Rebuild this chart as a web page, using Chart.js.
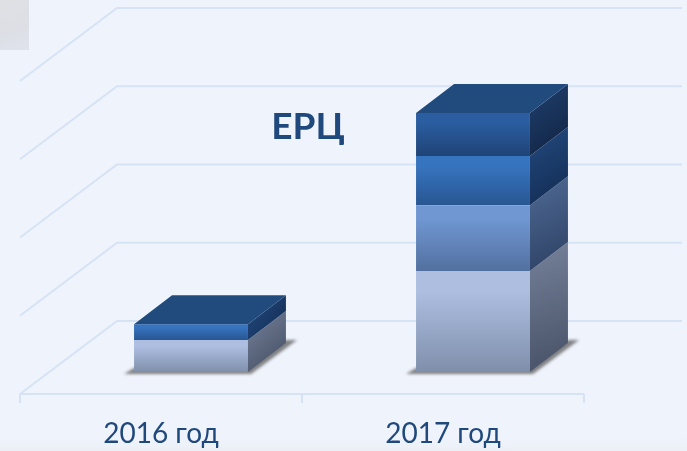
<!DOCTYPE html>
<html>
<head>
<meta charset="utf-8">
<script src="https://cdn.jsdelivr.net/npm/chart.js@4/dist/chart.umd.min.js"></script>
<style>
    html, body { margin: 0; padding: 0; }
    body { width: 687px; height: 451px; overflow: hidden; position: relative;
           background: linear-gradient(to bottom, #eff3fc 0, #eff3fc 436px, #ecf0f6 451px); }
    #patch { position: absolute; left: 0; top: 0; width: 29px; height: 50px;
             background: linear-gradient(160deg, #dfe0e3, #dddfe6 60%, #e0e3ee); }
    canvas { position: absolute; left: 0; top: 0; }
</style>
</head>
<body>
<div id="patch"></div>
<canvas id="myChart" width="687" height="451"></canvas>
<script>
// Data
const categories = ["2016 год", "2017 год"];
const layer1 = [41, 129];
const layer2 = [0, 84];
const layer3 = [20, 63];
const layer4 = [0, 55];
const chartTitle = "ЕРЦ";

// Colors: front top, front bottom, side start, side end
const layerColors = [
    ["#adbee1", "#7f8fab", "#76829a", "#4c576d"],
    ["#7097d2", "#52709f", "#506b96", "#32466a"],
    ["#3774bf", "#285692", "#234b80", "#153059"],
    ["#2b5ea1", "#1f4376", "#1f406f", "#142849"]
];
const layers = [layer1, layer2, layer3, layer4];

const depthX = 38, depthY = 29;       // bar depth
const floorX = 97, floorY = 73;       // floor depth
const planeX = 30, planeY = 22;       // bar plane -> front of the floor
const gridColor = "#d6e3f5";
const topColor = "#204b7c";

function stackedBase(datasetIndex, dataIndex) {
    let sum = 0;
    for (let i = 0; i < datasetIndex; i++) sum += layers[i][dataIndex];
    return sum;
}

function frontGradient(ctx) {
    const chart = ctx.chart;
    const colors = layerColors[ctx.datasetIndex];
    if (!chart.chartArea || ctx.dataIndex === undefined) return colors[0];
    const y = chart.scales.y;
    const base = stackedBase(ctx.datasetIndex, ctx.dataIndex);
    const yTop = y.getPixelForValue(base + layers[ctx.datasetIndex][ctx.dataIndex]);
    const yBot = y.getPixelForValue(base);
    if (yTop === yBot) return colors[0];
    const g = chart.ctx.createLinearGradient(0, yTop, 0, yBot);
    g.addColorStop(0, colors[0]);
    g.addColorStop(0.2, colors[0]);
    g.addColorStop(1, colors[1]);
    return g;
}

// walls, floor, axis, shadows: behind the bars
const wallsPlugin = {
    id: "walls",
    beforeDatasetsDraw(chart) {
        const ctx = chart.ctx, x = chart.scales.x, y = chart.scales.y;
        const frontLeft = x.left - planeX;
        const frontRight = x.right - planeX;
        ctx.save();
        ctx.strokeStyle = gridColor;
        ctx.lineWidth = 2;
        y.ticks.forEach(t => {
            const py = y.getPixelForValue(t.value) + planeY;
            ctx.beginPath();
            ctx.moveTo(frontLeft, py);
            ctx.lineTo(frontLeft + floorX, py - floorY);
            ctx.lineTo(682, py - floorY);
            ctx.stroke();
        });
        // axis line + ticks
        const axisY = y.getPixelForValue(0) + planeY;
        const step = (frontRight - frontLeft) / categories.length;
        ctx.beginPath();
        ctx.moveTo(frontLeft, axisY);
        ctx.lineTo(frontRight, axisY);
        for (let i = 0; i <= categories.length; i++) {
            ctx.moveTo(frontLeft + i * step, axisY);
            ctx.lineTo(frontLeft + i * step, axisY + 9);
        }
        ctx.stroke();

        // shadows
        const meta = chart.getDatasetMeta(0);
        ctx.filter = "blur(1.5px)";
        meta.data.forEach(bar => {
            const l = bar.x - bar.width / 2, r = bar.x + bar.width / 2, b = bar.base;
            ctx.fillStyle = "rgba(90,90,90,0.75)";
            ctx.beginPath();
            ctx.moveTo(l - 10, b + 2);
            ctx.lineTo(r + 3, b + 2);
            ctx.lineTo(r + depthX + 11, b - depthY - 3);
            ctx.lineTo(r + depthX, b - depthY - 3);
            ctx.lineTo(r, b - 4);
            ctx.lineTo(l, b - 4);
            ctx.closePath();
            ctx.fill();
        });
        ctx.restore();
    }
};

// side and top faces, taken from the bar elements
const boxPlugin = {
    id: "box",
    afterDatasetsDraw(chart) {
        const ctx = chart.ctx;
        ctx.save();
        categories.forEach((c, idx) => {
            let topY = null, right = 0, left = 0;
            layers.forEach((l, di) => {
                const bar = chart.getDatasetMeta(di).data[idx];
                const yTop = Math.min(bar.y, bar.base), yBot = Math.max(bar.y, bar.base);
                left = bar.x - bar.width / 2;
                right = bar.x + bar.width / 2;
                if (yBot - yTop < 0.5) return;
                const colors = layerColors[di];
                const g = ctx.createLinearGradient(right, yTop - depthY, right + depthX, yBot - depthY + 10);
                g.addColorStop(0, colors[2]);
                g.addColorStop(1, colors[3]);
                ctx.fillStyle = g;
                ctx.beginPath();
                ctx.moveTo(right, yTop);
                ctx.lineTo(right + depthX, yTop - depthY);
                ctx.lineTo(right + depthX, yBot - depthY);
                ctx.lineTo(right, yBot);
                ctx.closePath();
                ctx.fill();
                topY = yTop;
            });
            ctx.fillStyle = topColor;
            ctx.beginPath();
            ctx.moveTo(left, topY);
            ctx.lineTo(left + depthX, topY - depthY);
            ctx.lineTo(right + depthX, topY - depthY);
            ctx.lineTo(right, topY);
            ctx.closePath();
            ctx.fill();
        });
        // title
        ctx.fillStyle = "#1f497d";
        ctx.font = "bold 37px Lato, 'Open Sans', sans-serif";
        ctx.textAlign = "center";
        ctx.textBaseline = "alphabetic";
        ctx.fillText(chartTitle, 308, 139);
        ctx.restore();
    }
};

new Chart(document.getElementById("myChart").getContext("2d"), {
    type: "bar",
    data: {
        labels: categories,
        datasets: layers.map(values => ({
            data: values,
            backgroundColor: frontGradient,
            borderWidth: 0,
            barPercentage: 0.404,
            categoryPercentage: 1
        }))
    },
    options: {
        responsive: false,
        animation: false,
        layout: { padding: { left: 50, right: 73, top: 59, bottom: 0 } },
        plugins: { legend: { display: false }, tooltip: { enabled: false } },
        scales: {
            x: {
                stacked: true,
                grid: { display: false, drawTicks: false },
                border: { display: false },
                afterFit(scale) { scale.height = 79; },
                ticks: {
                    color: "#1f497d",
                    font: { family: "Lato, 'Open Sans', sans-serif", size: 28 },
                    padding: 45,
                    labelOffset: -30,
                    maxRotation: 0
                }
            },
            y: {
                stacked: true,
                min: 0,
                max: 400,
                display: false,
                ticks: { stepSize: 100 }
            }
        }
    },
    plugins: [wallsPlugin, boxPlugin]
});
</script>
</body>
</html>
